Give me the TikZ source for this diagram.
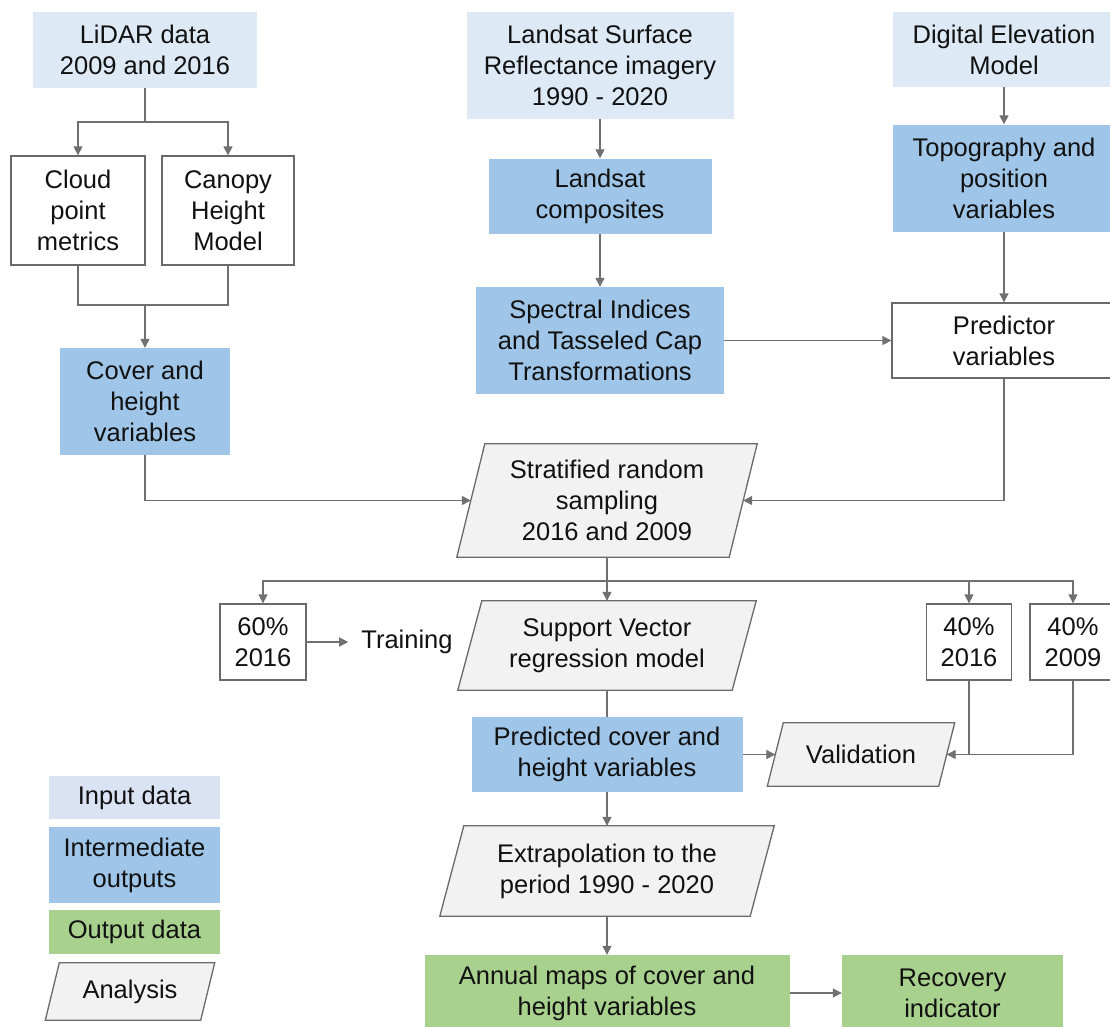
\documentclass[tikz,border=0pt]{standalone}
\usepackage{fontspec}
\setmainfont{Liberation Sans}
\usetikzlibrary{arrows.meta,calc}
\definecolor{inputc}{HTML}{DDE9F5}
\definecolor{leginc}{HTML}{DAE3F3}
\definecolor{midc}{HTML}{9FC5E8}
\definecolor{outc}{HTML}{A9D18E}
\definecolor{anafill}{HTML}{F2F2F2}
\definecolor{edgec}{HTML}{6A6A6A}
\definecolor{linec}{HTML}{707070}
\definecolor{txt}{HTML}{111111}
\newcommand\diagfont{\fontsize{25.5}{31}\selectfont}
\pgfdeclarelayer{background}
\pgfsetlayers{background,main}
\tikzset{
  box/.style={rectangle, inner sep=0pt, align=center, text=txt, font=\diagfont},
  sz/.style 2 args={minimum width=#1pt, minimum height=#2pt},
  inbox/.style={box, fill=inputc},
  midbox/.style={box, fill=midc},
  outbox/.style={box, fill=outc},
  wbox/.style={box, draw=edgec, fill=white, line width=1.3pt},
  anabox/.style={box},
  anashape/.style={draw=edgec, fill=anafill, line width=1.3pt, line join=miter},
  conn/.style={draw=linec, line width=1.3pt},
  arr/.style={conn, -{Triangle[length=9pt,width=9pt]}},
}
\begin{document}
\begin{tikzpicture}[x=1pt,y=-1pt]
\useasboundingbox (0,0) rectangle (1110,1026);
% top row
\node[inbox, sz={224}{76}] (lidar) at (145,50) {LiDAR data\\2009 and 2016};
\node[inbox, sz={267}{107}] (lsr) at (600,65.5) {Landsat Surface\\Reflectance imagery\\1990 - 2020};
\node[inbox, sz={222}{75}] (dem) at (1004,49.5) {Digital Elevation\\Model};
% second row
\node[wbox, sz={134}{109}] (cloud) at (78,210.5) {Cloud\\point\\metrics};
\node[wbox, sz={132}{109}] (canopy) at (228,210.5) {Canopy\\Height\\Model};
\node[midbox, sz={223}{75}] (comp) at (600,196) {Landsat\\composites};
\node[midbox, sz={222}{107}] (topo) at (1004,178) {Topography and\\position\\variables};
% third row
\node[midbox, sz={248}{107}] (spec) at (600,340.5) {Spectral Indices\\and Tasseled Cap\\Transformations};
\node[wbox, sz={224}{75}] (pred) at (1004,340.5) {Predictor\\variables};
\node[midbox, sz={170}{107}] (cover) at (145,401.5) {Cover and\\height\\variables};
% analysis
\node[anabox, sz={272}{113}] (strat) at (607,500.5) {Stratified random\\sampling\\2016 and 2009};
\node[wbox, sz={86}{76}] (sixty) at (263,642) {60\%\\2016};
\node[box, inner xsep=13pt] (training) at (407,642) {Training};
\node[anabox, sz={274}{89}] (svr) at (607,645.5) {Support Vector\\regression model};
\node[wbox, sz={85}{76}] (forty16) at (969,642) {40\%\\2016};
\node[wbox, sz={86}{76}] (forty09) at (1073,642) {40\%\\2009};
\node[midbox, sz={271}{75}] (pred2) at (607,754.5) {Predicted cover and\\height variables};
\node[anabox, sz={171}{63}] (valid) at (861,754.5) {Validation};
\node[anabox, sz={310}{90}] (extra) at (607,871) {Extrapolation to the\\period 1990 - 2020};
\node[outbox, sz={365}{76}] (annual) at (607,993) {Annual maps of cover and\\height variables};
\node[outbox, sz={221}{76}] (recov) at (952.5,993) {Recovery\\indicator};
% legend
\node[box, fill=leginc, sz={171}{43}] (leg1) at (134.5,797.5) {Input data};
\node[midbox, sz={171}{76}] (leg2) at (134.5,865) {Intermediate\\outputs};
\node[outbox, sz={171}{44}] (leg3) at (134.5,932) {Output data};
\node[anabox, sz={155}{57}] (leg4) at (130,991.5) {Analysis};
% parallelogram outlines
\begin{pgfonlayer}{background}
\fill[white] (0,0) rectangle (1110,1026);
\foreach \n/\s in {strat/14, svr/12, valid/8, extra/12, leg4/7}{
  \draw[anashape] ([xshift=\s pt]\n.north west) -- ([xshift=\s pt]\n.north east)
    -- ([xshift=-\s pt]\n.south east) -- ([xshift=-\s pt]\n.south west) -- cycle;
}
\end{pgfonlayer}
% connectors
\coordinate (j1) at (145,122);
\draw[conn] (lidar.south) -- (j1);
\draw[arr] (j1) -| (cloud.north);
\draw[arr] (j1) -| (canopy.north);
\coordinate (j2) at (145,305);
\draw[conn] (cloud.south) |- (j2);
\draw[conn] (canopy.south) |- (j2);
\draw[arr] (j2) -- (cover.north);
\draw[arr] (cover.south) |- (strat.west);
\draw[arr] (lsr.south) -- (comp.north);
\draw[arr] (comp.south) -- (spec.north);
\draw[arr] (spec.east) -- (pred.west);
\draw[arr] (dem.south) -- (topo.north);
\draw[arr] (topo.south) -- (pred.north);
\draw[arr] (pred.south) |- (strat.east);
\coordinate (j3) at (607,581);
\draw[conn] (strat.south) -- (j3);
\draw[arr] (j3) -| (sixty.north);
\draw[arr] (j3) -- (svr.north);
\draw[arr] (j3) -| (forty16.north);
\draw[arr] (j3) -| (forty09.north);
\draw[arr] (sixty.east) -- (training.west);
\draw[conn] (svr.south) -- (pred2.north);
\draw[arr] (pred2.east) -- (valid.west);
\draw[arr] (forty09.south) |- (valid.east);
\draw[conn] (forty16.south) -- (forty16.south |- valid.east);
\draw[arr] (pred2.south) -- (extra.north);
\draw[arr] (extra.south) -- (annual.north);
\draw[arr] (annual.east) -- (recov.west);
\end{tikzpicture}
\end{document}
